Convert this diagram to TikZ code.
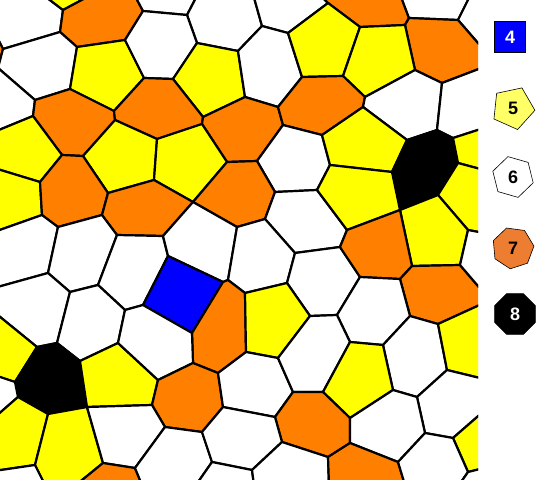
\documentclass[tikz,border=0pt]{standalone}
\usepackage{fontspec}
\setmainfont{Liberation Sans}
\usepackage{tikz}
\usetikzlibrary{shapes.geometric}
\definecolor{cBlue}{RGB}{0,0,255}
\definecolor{cYellow}{RGB}{255,255,0}
\definecolor{cOrange}{RGB}{255,128,0}
\definecolor{cKeyYellow}{RGB}{255,255,102}
\definecolor{cKeyOrange}{RGB}{237,125,49}
\tikzset{
	tile/.style ={draw=black, line width=2.2pt, line join=round},
	quad/.style ={tile, fill=cBlue},
	penta/.style={tile, fill=cYellow},
	hexa/.style ={tile, fill=white},
	hepta/.style={tile, fill=cOrange},
	octa/.style ={tile, fill=black},
	key/.style  ={draw=black, line width=0.6pt, inner sep=0pt, font=\fontsize{18}{18}\selectfont\bfseries},
	keypoly/.style={key, regular polygon, minimum size=44pt},
}

\begin{document}
\begin{tikzpicture}[x=1pt, y=-1pt]
	\useasboundingbox (0,0) rectangle (543,479);
	% points outside the clip, on the frame
	\foreach \n/\x/\y in {ctl/-6/-6, t0/42/-6, t1/93/-6, t2/134/-6, t3/198/-6, t4/253/-6, t5/319/-6, t6/400/-6, t7/471/-6, ctr/484/-6,
		l0/-6/31, l1/-2/68, l2/-6/132, l3/-6/168, l4/-6/232, l5/-6/288, l6/-6/312, l7/-6/375, l8/-6/418, l9/-6/471, cbl/-6/485,
		r1/484/50, r2/484/67, r3/484/128, r4/484/170, r5/484/233, r6/484/293, r7/484/303, r8/484/379, r9/484/411, r10/484/468, cbr/484/485,
		e1/45/485, e2/76/485, e3/142/485, e4/196/485, e5/254/485, e6/329/485, e7/405/485, e8/459/485}
		\coordinate (\n) at (\x,\y);
	% inner corners
	\foreach \n/\x/\y in {v1/63/10, v2/143/11, v3/187/15, v4/262/26, v5/328/3, v6/409/18, v7/458/20, v8/60/32, v9/77/47, v10/125/40,
		v11/197/43, v12/238/51, v13/288/33, v14/360/27, v15/405/25, v16/3/49, v17/35/100, v18/70/89, v19/144/78, v20/114/111,
		v21/173/79, v22/245/97, v23/302/77, v24/278/107, v25/343/76, v26/415/70, v27/442/83, v28/115/120, v29/33/116, v30/203/117,
		v31/202/124, v32/157/139, v33/283/125, v34/365/97, v35/363/107, v36/322/135, v37/437/130, v38/407/140, v39/453/138, v40/62/155,
		v41/83/156, v42/227/162, v43/257/161, v44/330/165, v45/392/172, v46/458/163, v47/40/182, v48/108/193, v49/154/180, v50/193/202,
		v51/275/192, v52/317/190, v53/400/210, v54/438/195, v55/42/215, v56/58/227, v57/102/215, v58/117/235, v59/163/236, v60/237/227,
		v61/265/219, v62/347/230, v63/468/230, v64/340/247, v65/295/253, v66/412/266, v67/460/265, v68/168/256, v69/223/282, v70/228/280,
		v71/245/293, v72/287/283, v73/360/277, v74/400/279, v75/48/273, v76/70/292, v77/98/285, v78/143/305, v79/125/310, v80/310/316,
		v81/337/315, v82/410/316, v83/438/324, v84/192/333, v85/57/343, v86/37/347, v87/118/343, v88/80/361, v89/350/342, v90/383/345,
		v91/246/352, v92/278/358, v93/193/363, v94/218/373, v95/158/380, v96/15/382, v97/447/370, v98/18/397, v99/87/407, v100/152/405,
		v101/48/414, v102/223/407, v103/293/392, v104/323/392, v105/393/390, v106/417/397, v107/165/427, v108/202/432, v109/275/417, v110/350/418,
		v111/282/442, v112/350/443, v113/425/433, v114/453/438, v115/212/462, v116/252/470, v117/328/457, v118/398/462, v119/103/463, v120/135/468,
		v121/35/465, v122/468/472}
		\coordinate (\n) at (\x,\y);

	\begin{scope}
		\clip (0,0) rectangle (478,479);
		% top rows
		\path[hexa]  (ctl) -- (t0) -- (v1) -- (v8) -- (v16) -- (l0) -- cycle;
		\path[penta] (t0) -- (t1) -- (v1) -- cycle;
		\path[hepta] (t1) -- (t2) -- (v2) -- (v10) -- (v9) -- (v8) -- (v1) -- cycle;
		\path[hexa]  (t2) -- (t3) -- (v3) -- (v2) -- cycle;
		\path[hexa]  (t3) -- (t4) -- (v4) -- (v12) -- (v11) -- (v3) -- cycle;
		\path[hexa]  (t4) -- (t5) -- (v5) -- (v13) -- (v4) -- cycle;
		\path[hepta] (t5) -- (t6) -- (v6) -- (v15) -- (v14) -- (v5) -- cycle;
		\path[hexa]  (t6) -- (t7) -- (v7) -- (v6) -- cycle;
		\path[hexa]  (t7) -- (ctr) -- (r1) -- (v7) -- cycle;
		\path[hepta] (v6) -- (v7) -- (r1) -- (r2) -- (v27) -- (v26) -- (v15) -- cycle;
		\path[hepta] (l0) -- (v16) -- (l1) -- cycle;
		\path[hexa]  (v8) -- (v9) -- (v18) -- (v17) -- (l1) -- (v16) -- cycle;
		\path[penta] (v9) -- (v10) -- (v19) -- (v20) -- (v18) -- cycle;
		\path[hexa]  (v10) -- (v2) -- (v3) -- (v11) -- (v21) -- (v19) -- cycle;
		\path[penta] (v21) -- (v11) -- (v12) -- (v22) -- (v30) -- cycle;
		\path[hexa]  (v12) -- (v4) -- (v13) -- (v23) -- (v24) -- (v22) -- cycle;
		\path[penta] (v13) -- (v5) -- (v14) -- (v25) -- (v23) -- cycle;
		\path[penta] (v14) -- (v15) -- (v26) -- (v34) -- (v25) -- cycle;
		\path[hexa]  (l1) -- (v17) -- (v29) -- (l2) -- cycle;
		\path[hepta] (v17) -- (v18) -- (v20) -- (v28) -- (v41) -- (v40) -- (v29) -- cycle;
		\path[hepta] (v20) -- (v19) -- (v21) -- (v30) -- (v31) -- (v32) -- (v28) -- cycle;
		\path[hepta] (v31) -- (v30) -- (v22) -- (v24) -- (v33) -- (v43) -- (v42) -- cycle;
		\path[hepta] (v23) -- (v25) -- (v34) -- (v35) -- (v36) -- (v33) -- (v24) -- cycle;
		\path[hexa]  (v35) -- (v34) -- (v26) -- (v27) -- (v37) -- (v38) -- cycle;
		\path[hexa]  (v27) -- (r2) -- (r3) -- (v39) -- (v37) -- cycle;
		% middle rows
		\path[penta] (l2) -- (v29) -- (v40) -- (v47) -- (l3) -- cycle;
		\path[penta] (v28) -- (v32) -- (v49) -- (v48) -- (v41) -- cycle;
		\path[penta] (v32) -- (v31) -- (v42) -- (v50) -- (v49) -- cycle;
		\path[hexa]  (v33) -- (v36) -- (v44) -- (v52) -- (v51) -- (v43) -- cycle;
		\path[penta] (v35) -- (v38) -- (v45) -- (v44) -- (v36) -- cycle;
		\path[octa]  (v38) -- (v37) -- (v39) -- (v46) -- (v54) -- (v53) -- (v45) -- cycle;
		\path[penta] (v39) -- (r3) -- (r4) -- (v46) -- cycle;
		\path[penta] (l3) -- (v47) -- (v55) -- (l4) -- cycle;
		\path[hepta] (v40) -- (v41) -- (v48) -- (v57) -- (v56) -- (v55) -- (v47) -- cycle;
		\path[hepta] (v48) -- (v49) -- (v50) -- (v59) -- (v58) -- (v57) -- cycle;
		\path[hepta] (v42) -- (v43) -- (v51) -- (v61) -- (v60) -- (v50) -- cycle;
		\path[hexa]  (v51) -- (v52) -- (v62) -- (v64) -- (v65) -- (v61) -- cycle;
		\path[penta] (v44) -- (v45) -- (v53) -- (v62) -- (v52) -- cycle;
		\path[penta] (v46) -- (r4) -- (r5) -- (v63) -- (v54) -- cycle;
		\path[penta] (v53) -- (v54) -- (v63) -- (v67) -- (v66) -- cycle;
		\path[hexa]  (l4) -- (v55) -- (v56) -- (v75) -- (l5) -- cycle;
		\path[hexa]  (v56) -- (v57) -- (v58) -- (v77) -- (v76) -- (v75) -- cycle;
		\path[hexa]  (v58) -- (v59) -- (v68) -- (v78) -- (v79) -- (v77) -- cycle;
		\path[hexa]  (v59) -- (v50) -- (v60) -- (v70) -- (v69) -- (v68) -- cycle;
		\path[hexa]  (v60) -- (v61) -- (v65) -- (v72) -- (v71) -- (v70) -- cycle;
		\path[hexa]  (v72) -- (v65) -- (v64) -- (v73) -- (v81) -- (v80) -- cycle;
		\path[hepta] (v64) -- (v62) -- (v53) -- (v66) -- (v74) -- (v73) -- cycle;
		\path[hepta] (v66) -- (v67) -- (r6) -- (r7) -- (v83) -- (v82) -- (v74) -- cycle;
		\path[hexa]  (v63) -- (r5) -- (r6) -- (v67) -- cycle;
		\path[hexa]  (l5) -- (v75) -- (v76) -- (v85) -- (v86) -- (l6) -- cycle;
		\path[hexa]  (v76) -- (v77) -- (v79) -- (v87) -- (v88) -- (v85) -- cycle;
		\path[quad]  (v68) -- (v69) -- (v84) -- (v78) -- cycle;
		\path[hepta] (v69) -- (v70) -- (v71) -- (v91) -- (v94) -- (v93) -- (v84) -- cycle;
		\path[penta] (v71) -- (v72) -- (v80) -- (v92) -- (v91) -- cycle;
		\path[hexa]  (v73) -- (v74) -- (v82) -- (v90) -- (v89) -- (v81) -- cycle;
		\path[hexa]  (v82) -- (v83) -- (v97) -- (v106) -- (v105) -- (v90) -- cycle;
		\path[penta] (v83) -- (r7) -- (r8) -- (v97) -- cycle;
		% bottom rows
		\path[penta] (l6) -- (v86) -- (v96) -- (l7) -- cycle;
		\path[octa]  (v86) -- (v85) -- (v88) -- (v99) -- (v101) -- (v98) -- (v96) -- cycle;
		\path[penta] (v88) -- (v87) -- (v95) -- (v100) -- (v99) -- cycle;
		\path[hexa]  (v79) -- (v78) -- (v84) -- (v93) -- (v95) -- (v87) -- cycle;
		\path[hepta] (v95) -- (v93) -- (v94) -- (v102) -- (v108) -- (v107) -- (v100) -- cycle;
		\path[hexa]  (v94) -- (v91) -- (v92) -- (v103) -- (v109) -- (v102) -- cycle;
		\path[hexa]  (v80) -- (v81) -- (v89) -- (v104) -- (v103) -- (v92) -- cycle;
		\path[penta] (v89) -- (v90) -- (v105) -- (v110) -- (v104) -- cycle;
		\path[hexa]  (v106) -- (v97) -- (r8) -- (r9) -- (v114) -- (v113) -- cycle;
		\path[hexa]  (l7) -- (v96) -- (v98) -- (l8) -- cycle;
		\path[penta] (l8) -- (v98) -- (v101) -- (v121) -- (l9) -- cycle;
		\path[penta] (v101) -- (v99) -- (v119) -- (e2) -- (e1) -- (v121) -- cycle;
		\path[hexa]  (v99) -- (v100) -- (v107) -- (v120) -- (v119) -- cycle;
		\path[hepta] (v109) -- (v103) -- (v104) -- (v110) -- (v112) -- (v117) -- (v111) -- cycle;
		\path[hexa]  (v110) -- (v105) -- (v106) -- (v113) -- (v118) -- (v112) -- cycle;
		\path[penta] (v114) -- (r9) -- (r10) -- (v122) -- cycle;
		\path[hexa]  (l9) -- (v121) -- (e1) -- (cbl) -- cycle;
		\path[hepta] (v119) -- (v120) -- (e3) -- (e2) -- cycle;
		\path[hexa]  (v107) -- (v108) -- (v115) -- (e4) -- (e3) -- (v120) -- cycle;
		\path[hexa]  (v108) -- (v102) -- (v109) -- (v111) -- (v116) -- (v115) -- cycle;
		\path[hexa]  (v115) -- (v116) -- (e5) -- (e4) -- cycle;
		\path[hexa]  (v116) -- (v111) -- (v117) -- (e6) -- (e5) -- cycle;
		\path[hepta] (v117) -- (v112) -- (v118) -- (e7) -- (e6) -- cycle;
		\path[hexa]  (v118) -- (v113) -- (v114) -- (v122) -- (e8) -- (e7) -- cycle;
		\path[hexa]  (v122) -- (r10) -- (cbr) -- (e8) -- cycle;
	\end{scope}

	% legend
	\node[key, rectangle, minimum size=31pt, fill=cBlue, text=white] (k4) at (510,37) {4};
	\node[keypoly, regular polygon sides=5, shape border rotate=-24, fill=cKeyYellow] (k5) at (513,108) {5};
	\node[keypoly, regular polygon sides=6, shape border rotate=-16, fill=white, minimum size=42pt] (k6) at (513,177) {6};
	\node[keypoly, regular polygon sides=7, shape border rotate=18, fill=cKeyOrange, minimum size=42pt] (k7) at (513,248) {7};
	\node[keypoly, regular polygon sides=8, fill=black, text=white] (k8) at (515,314) {8};
\end{tikzpicture}
\end{document}
